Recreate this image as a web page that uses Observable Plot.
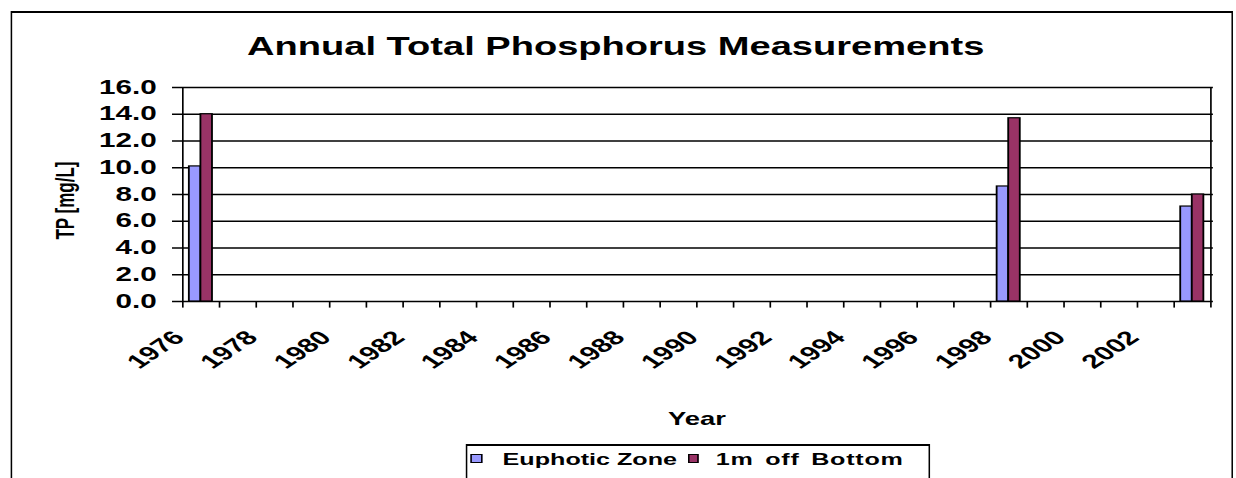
<!DOCTYPE html>
<html>
<head>
<meta charset="utf-8">
<script src="https://cdn.jsdelivr.net/npm/d3@7"></script>
<script src="https://cdn.jsdelivr.net/npm/@observablehq/plot@0.6"></script>
<style>
  html, body { margin: 0; padding: 0; background: #fff; }
  body { width: 1236px; height: 478px; overflow: hidden; font-family: "Liberation Sans", Arial, sans-serif; color: #000; }
  #stage { position: relative; width: 812px; height: 478px; transform: scaleX(1.5222); transform-origin: 0 0; }
  #border { position: absolute; left: 6.6px; top: 11px; width: 803.6px; height: 520px; border-style: solid; border-color: #000; border-width: 2px 1.8px; box-sizing: border-box; }
  #title { position: absolute; left: 0; top: 32.4px; width: 809px; text-align: center; font-weight: bold; font-size: 25px; white-space: nowrap; }
  #chart { position: absolute; left: 0; top: 75px; width: 812px; }
  #legend { position: absolute; left: 306.2px; top: 444px; width: 304.4px; height: 60px; border-style: solid; border-color: #000; border-width: 2px 1.5px; box-sizing: border-box; background: #fff; }
  .sw { position: absolute; top: 8px; width: 7.8px; height: 8.6px; border-style: solid; border-color: #000; border-width: 1.3px 1px; box-sizing: border-box; }
  .lt { position: absolute; top: 4.8px; font-size: 16.5px; line-height: 16.5px; font-weight: bold; white-space: nowrap; }
  .lt.wide { word-spacing: 2.5px; letter-spacing: 0.5px; }
</style>
</head>
<body>
<div id="stage">
  <div id="border"></div>
  <div id="title"></div>
  <div id="chart"></div>
  <div id="legend"></div>
</div>
<script>
// ---- data ----
const chartTitle = "Annual Total Phosphorus Measurements";
const xLabel = "Year";
const yLabel = "TP [mg/L]";
const categories = [1976, 1977, 1978, 1979, 1980, 1981, 1982, 1983, 1984, 1985, 1986, 1987, 1988, 1989,
                    1990, 1991, 1992, 1993, 1994, 1995, 1996, 1997, 1998, 1999, 2000, 2001, 2002, 2003];
const xTickLabels = [1976, 1978, 1980, 1982, 1984, 1986, 1988, 1990, 1992, 1994, 1996, 1998, 2000, 2002];
const yTicks = [0, 2, 4, 6, 8, 10, 12, 14, 16];
const dataYears = [1976, 1998, 2003];
const euphotic = [10.1, 8.6, 7.1];
const offBottom = [14.0, 13.7, 8.0];
const seriesNames = ["Euphotic Zone", "1m off Bottom"];
const seriesColors = ["#9999FF", "#993366"];

// ---- layout ----
const W = 812, H = 365;
const mL = 119.6, mR = 17, mT = 12, mB = 139;
const xMin = categories[0], xMax = categories[categories.length - 1] + 1;
const bw = (W - mL - mR) / categories.length;
const barW = 7.6;
const fontFamily = '"Liberation Sans", Arial, sans-serif';

const rows = dataYears.map((yr, i) => ({year: yr, euphotic: euphotic[i], bottom: offBottom[i]}));

document.getElementById("title").textContent = chartTitle;

const chart = Plot.plot({
  width: W, height: H,
  marginLeft: mL, marginRight: mR, marginTop: mT, marginBottom: mB,
  style: {fontFamily, color: "#000", background: "transparent", overflow: "visible"},
  x: {type: "linear", domain: [xMin, xMax], axis: null},
  y: {domain: [0, 16], axis: null},
  marks: [
    // gridlines (extended left to form the y tick marks)
    Plot.ruleY(yTicks, {y: d => d, x1: () => xMin, x2: () => xMax, insetLeft: -6.6, insetRight: -1.8, stroke: "#000", strokeWidth: 1.4}),
    // bars
    Plot.rectY(rows, {x1: "year", x2: d => d.year + 1, y: "euphotic", insetLeft: bw / 2 - barW, insetRight: bw / 2,
      fill: seriesColors[0], stroke: "#000", strokeWidth: 1.2}),
    Plot.rectY(rows, {x1: "year", x2: d => d.year + 1, y: "bottom", insetLeft: bw / 2, insetRight: bw / 2 - barW,
      fill: seriesColors[1], stroke: "#000", strokeWidth: 1.2}),
    // category boundary ticks
    Plot.ruleX(categories.slice(1), {x: d => d, y1: () => 0, y2: () => 0, insetBottom: -6.6, stroke: "#000", strokeWidth: 1.1}),
    // left and right axis lines
    Plot.ruleX([xMin, xMax], {x: d => d, y1: () => 16, y2: () => 0, insetBottom: -6.6, stroke: "#000", strokeWidth: 1.1}),
    // y tick labels
    Plot.axisY({ticks: yTicks, tickFormat: d3.format(".1f"), tickSize: 0, tickPadding: 17.1, label: null,
      fontSize: 19.5, fontWeight: "bold"}),
    // x tick labels
    Plot.text(xTickLabels, {x: d => d + 0.5, frameAnchor: "bottom", text: d => String(d), rotate: -45,
      textAnchor: "end", lineAnchor: "middle", dx: -14.5, dy: 32.8, fontSize: 19.5, fontWeight: "bold"}),
    // axis titles
    Plot.text([xLabel], {frameAnchor: "bottom", text: d => d, textAnchor: "middle", lineAnchor: "middle",
      dy: 118, fontSize: 18, fontWeight: "bold"}),
    Plot.text([yLabel], {frameAnchor: "left", text: d => d, rotate: -90, textAnchor: "middle", lineAnchor: "middle",
      dx: -76.8, dy: 6, fontSize: 17, fontWeight: "bold"})
  ]
});
document.getElementById("chart").appendChild(chart);

// ---- legend ----
const legend = document.getElementById("legend");
const swatchX = [2.2, 144.5];
const textX = [23, 163.1];
seriesNames.forEach((name, i) => {
  const sw = document.createElement("div");
  sw.className = "sw";
  sw.style.left = swatchX[i] + "px";
  sw.style.background = seriesColors[i];
  legend.appendChild(sw);
  const t = document.createElement("div");
  t.className = i === 1 ? "lt wide" : "lt";
  t.style.left = textX[i] + "px";
  t.textContent = name;
  legend.appendChild(t);
});
</script>
</body>
</html>
